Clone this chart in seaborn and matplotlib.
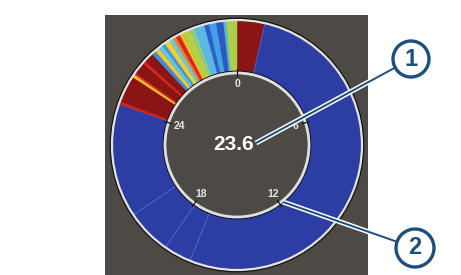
import matplotlib
matplotlib.use('Agg')
import matplotlib.pyplot as plt
from matplotlib.patches import Circle, Rectangle
import seaborn as sns
import numpy as np

# dial runs 0..30, labels every 6
dial_max = 30
tick_hours = [0, 6, 12, 18, 24]
center_value = "23.6"
callouts = ["1", "2"]

# ring segments clockwise from 0: width (dial units) and level (0 = blue, 1 = dark red)
seg_widths = [1.08, 15.75, 1.08, 1.75, 4.42, 0.12, 1.04, 0.12, 0.08, 0.46,
              0.12, 0.38, 0.17, 0.17, 0.17, 0.12, 0.21, 0.17, 0.12, 0.17,
              0.12, 0.33, 0.17, 0.39, 0.19, 0.28, 0.28, 0.10, 0.42]
seg_levels = [1.00, 0.00, 0.00, 0.00, 0.00, 0.90, 1.00, 0.66, 0.88, 1.00,
              0.88, 1.00, 0.20, 0.64, 0.36, 0.22, 0.62, 0.38, 0.76, 0.88,
              0.66, 0.52, 0.44, 0.32, 0.12, 0.24, 0.10, 0.30, 0.50]

sns.set_theme(style="white")
plt.rcParams['font.family'] = ['Liberation Sans', 'DejaVu Sans']

cmap = sns.blend_palette(["#2c3da3", "#2f5fd0", "#45a8e8", "#6cc8dc", "#a8d048",
                          "#f0d030", "#f08a2c", "#e0281e", "#8b1414"], as_cmap=True)

fig = plt.figure(figsize=(4.61, 2.75), dpi=100)
ax = fig.add_axes([0, 0, 1, 1])

W, H = 461, 275
cx, cy = 237, 130
r_out, r_in = 125, 73
panel = "#4d4a45"
navy = "#1d4f7c"

ax.add_patch(Rectangle((105, 0), 263, 260, facecolor=panel, edgecolor="none", zorder=0))

colors = [cmap(v) for v in seg_levels]
wedges, _ = ax.pie(seg_widths, colors=colors, startangle=90, counterclock=False,
                   radius=r_out, center=(cx, cy), normalize=True,
                   wedgeprops=dict(width=r_out - r_in, linewidth=0))
for w, v in zip(wedges, seg_levels):
    w.set_zorder(2)
    if v == 0:
        w.set_edgecolor("#4a63c4")
        w.set_linewidth(0.7)
    else:
        w.set_edgecolor(w.get_facecolor())
        w.set_linewidth(0.3)

# ring outlines
ax.add_patch(Circle((cx, cy), r_out + 1.5, fill=False, ec="#111111", lw=1.2, zorder=3))
ax.add_patch(Circle((cx, cy), r_out, fill=False, ec="#e2e2e2", lw=1.6, zorder=3))
ax.add_patch(Circle((cx, cy), r_in + 0.8, fill=False, ec="#111111", lw=0.8, zorder=3))
ax.add_patch(Circle((cx, cy), r_in - 1, fill=False, ec="#dedede", lw=2.0, zorder=3))

# ticks and labels on the inner circle
for h in tick_hours:
    a = np.deg2rad(90 - h / dial_max * 360)
    ax.plot([cx + (r_in - 4) * np.cos(a), cx + (r_in + 3) * np.cos(a)],
            [cy + (r_in - 4) * np.sin(a), cy + (r_in + 3) * np.sin(a)],
            color="#111111", lw=0.9, zorder=4)
    ax.text(cx + 61 * np.cos(a), cy + 61 * np.sin(a), str(h), color="#e6e6e6",
            fontsize=7.5, fontweight="bold", ha="center", va="center", zorder=4)

ax.text(cx - 3, cy + 1, center_value, color="white", fontsize=15, fontweight="bold",
        ha="center", va="center", zorder=4)

# callouts
starts = [(256, 132), (283, 73)]
ends = [(411, 216), (415, 27)]
radii = [18, 19]
for label, (x0, y0), (x1, y1), rc in zip(callouts, starts, ends, radii):
    d = np.hypot(x1 - x0, y1 - y0)
    xe, ye = x1 - (x1 - x0) / d * rc, y1 - (y1 - y0) / d * rc
    ax.plot([x0, xe], [y0, ye], color="white", lw=3.6, solid_capstyle="butt", zorder=5)
    ax.plot([x0, xe], [y0, ye], color=navy, lw=1.4, solid_capstyle="butt", zorder=6)
    ax.add_patch(Circle((x1, y1), rc, facecolor="white", ec=navy, lw=2.4, zorder=7))
    ax.text(x1, y1, label, color=navy, fontsize=17, fontweight="bold",
            ha="center", va="center", zorder=8)

ax.set_xlim(0, W)
ax.set_ylim(0, H)
ax.set_aspect("equal")
ax.axis("off")

fig.savefig("out.png", dpi=100, facecolor="white")
plt.close(fig)
